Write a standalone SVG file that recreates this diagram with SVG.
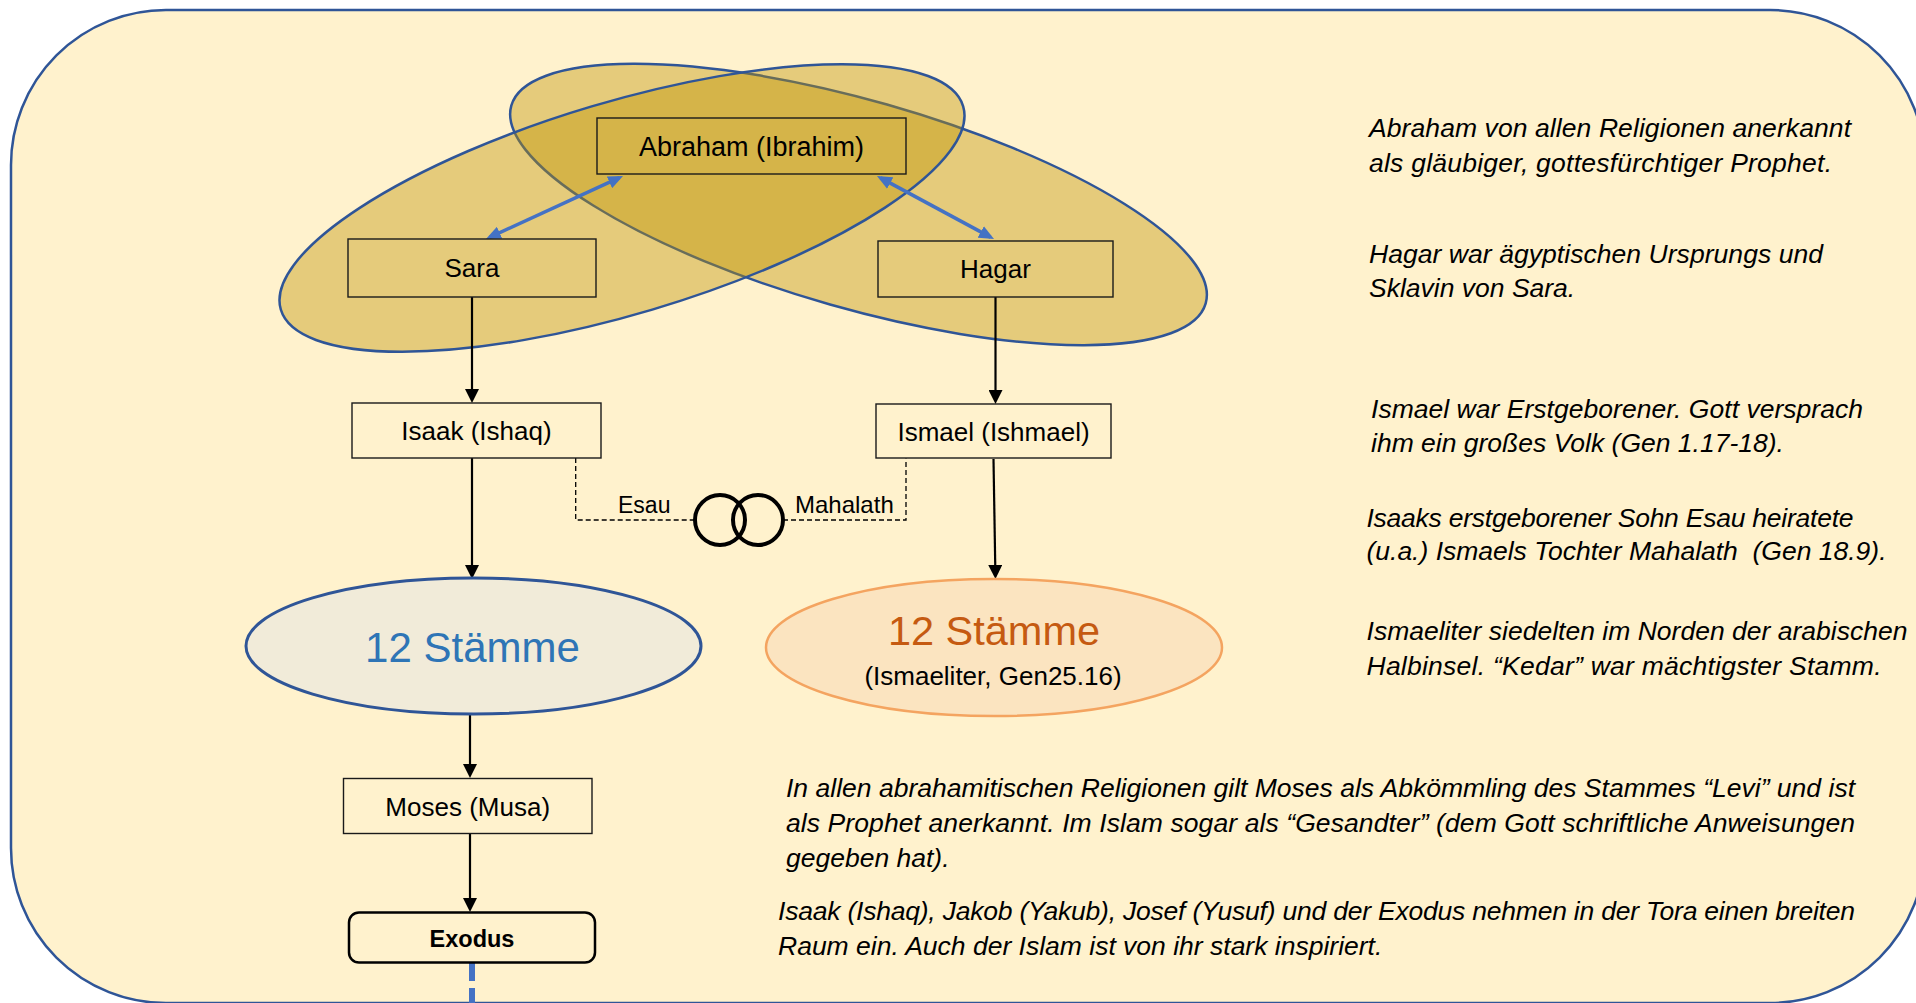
<svg xmlns="http://www.w3.org/2000/svg" width="1916" height="1003" viewBox="0 0 1916 1003">
  <style>
    .lbl { font-family: "Liberation Sans", Arial, sans-serif; font-size: 26px; fill: #000; text-anchor: middle; }
    .note { font-family: "Liberation Sans", Arial, sans-serif; font-size: 26.5px; font-style: italic; fill: #000; }
    .box { fill: none; stroke: #1a1a1a; stroke-width: 1.4; }
    .conn { fill: none; stroke: #000; stroke-width: 2.2; }
    .dash { fill: none; stroke: #000; stroke-width: 1.3; stroke-dasharray: 5 3; }
    .blue { fill: none; stroke: #4472C4; stroke-width: 3.5; }
  </style>
  <defs>
    <marker id="ah" viewBox="0 0 14 14" markerWidth="14" markerHeight="14" refX="10" refY="7" orient="auto" markerUnits="userSpaceOnUse">
      <path d="M0,0 L14,7 L0,14 z" fill="#000"/>
    </marker>
    <marker id="bh" viewBox="0 0 15 13" markerWidth="15" markerHeight="13" refX="11" refY="6.5" orient="auto-start-reverse" markerUnits="userSpaceOnUse">
      <path d="M0,0 L15,6.5 L0,13 z" fill="#4472C4"/>
    </marker>
  </defs>

  <g id="background">
    <rect x="11" y="10" width="1914" height="993" rx="155" ry="155" fill="#FFF2CD" stroke="#2F5597" stroke-width="2.5"/>
  </g>

  <g id="family-ellipses">
    <ellipse cx="858.5" cy="204.5" rx="361" ry="104" transform="rotate(15.9 858.5 204.5)" fill="#BF9000" fill-opacity="0.4" stroke="#2F5597" stroke-width="2.5"/>
    <ellipse cx="622" cy="208" rx="356" ry="106" transform="rotate(-16.6 622 208)" fill="#BF9000" fill-opacity="0.4" stroke="#2F5597" stroke-width="2.5"/>
  </g>

  <g id="connectors">
    <line class="blue" x1="489.6" y1="237.3" x2="619.4" y2="177.7" marker-start="url(#bh)" marker-end="url(#bh)"/>
    <line class="blue" x1="880.5" y1="177.9" x2="990.5" y2="237.1" marker-start="url(#bh)" marker-end="url(#bh)"/>
    <line class="conn" x1="472" y1="297" x2="472" y2="399" marker-end="url(#ah)"/>
    <line class="conn" x1="995.5" y1="297" x2="995.5" y2="400" marker-end="url(#ah)"/>
    <line class="conn" x1="472" y1="458" x2="472" y2="575" marker-end="url(#ah)"/>
    <line class="conn" x1="993.5" y1="459" x2="995.4" y2="575" marker-end="url(#ah)"/>
    <line class="conn" x1="470" y1="714" x2="470" y2="774" marker-end="url(#ah)"/>
    <line class="conn" x1="470" y1="834" x2="470" y2="908" marker-end="url(#ah)"/>
    <path class="dash" d="M575.7,458 V520 H694.6"/>
    <path class="dash" d="M783,520 H906 V458.5"/>
    <line x1="472" y1="963" x2="472" y2="1003" stroke="#4472C4" stroke-width="6" stroke-dasharray="18 7"/>
  </g>

  <g id="abraham">
    <rect class="box" x="597" y="118" width="309" height="56"/>
    <text class="lbl" x="751.5" y="156" style="font-size:27px">Abraham (Ibrahim)</text>
  </g>
  <g id="sara">
    <rect class="box" x="348" y="239" width="248" height="58"/>
    <text class="lbl" x="472" y="277">Sara</text>
  </g>
  <g id="hagar">
    <rect class="box" x="878" y="241" width="235" height="56"/>
    <text class="lbl" x="995.5" y="278">Hagar</text>
  </g>
  <g id="isaak">
    <rect class="box" x="352" y="403" width="249" height="55"/>
    <text class="lbl" x="476.5" y="440">Isaak (Ishaq)</text>
  </g>
  <g id="ismael">
    <rect class="box" x="876" y="404" width="235" height="54"/>
    <text class="lbl" x="993.5" y="441">Ismael (Ishmael)</text>
  </g>
  <g id="marriage">
    <circle cx="720" cy="520" r="25" fill="none" stroke="#000" stroke-width="4"/>
    <circle cx="758" cy="520" r="25" fill="none" stroke="#000" stroke-width="4"/>
    <text class="lbl" x="618" y="513" style="font-size:23px;text-anchor:start">Esau</text>
    <text class="lbl" x="795" y="513" style="font-size:24px;text-anchor:start">Mahalath</text>
  </g>
  <g id="staemme-israel">
    <ellipse cx="473.5" cy="646" rx="227.5" ry="68" fill="#F1EBD9" stroke="#2F5597" stroke-width="3"/>
    <text class="lbl" x="472.5" y="662" style="font-size:42px;fill:#2E75B6">12 Stämme</text>
  </g>
  <g id="staemme-ismaeliter">
    <ellipse cx="994" cy="647.5" rx="228" ry="68.5" fill="#FBE4C0" stroke="#F4A460" stroke-width="2.5"/>
    <text class="lbl" x="994" y="645" style="font-size:41.5px;fill:#C55A11">12 Stämme</text>
    <text class="lbl" x="993" y="685">(Ismaeliter, Gen25.16)</text>
  </g>
  <g id="moses">
    <rect class="box" x="343.5" y="778.5" width="248.5" height="55"/>
    <text class="lbl" x="467.7" y="816">Moses (Musa)</text>
  </g>
  <g id="exodus">
    <rect x="349" y="912.5" width="246" height="50" rx="10" ry="10" fill="none" stroke="#000" stroke-width="2.5"/>
    <text class="lbl" x="472" y="947" style="font-size:23.5px;font-weight:bold">Exodus</text>
  </g>

  <g id="notes">
    <text class="note" x="1369" y="137" textLength="482">Abraham von allen Religionen anerkannt</text>
    <text class="note" x="1369" y="172" textLength="463">als gläubiger, gottesfürchtiger Prophet.</text>
    <text class="note" x="1369" y="263" textLength="454">Hagar war ägyptischen Ursprungs und</text>
    <text class="note" x="1369" y="297">Sklavin von Sara.</text>
    <text class="note" x="1371" y="418" textLength="492">Ismael war Erstgeborener. Gott versprach</text>
    <text class="note" x="1371" y="452">ihm ein großes Volk (Gen 1.17-18).</text>
    <text class="note" x="1366.5" y="527" textLength="487">Isaaks erstgeborener Sohn Esau heiratete</text>
    <text class="note" x="1366.5" y="560" textLength="520" xml:space="preserve">(u.a.) Ismaels Tochter Mahalath  (Gen 18.9).</text>
    <text class="note" x="1366.5" y="640" textLength="541">Ismaeliter siedelten im Norden der arabischen</text>
    <text class="note" x="1366.5" y="675" textLength="515">Halbinsel. “Kedar” war mächtigster Stamm.</text>
    <text class="note" x="786" y="797" textLength="1069">In allen abrahamitischen Religionen gilt Moses als Abkömmling des Stammes “Levi” und ist</text>
    <text class="note" x="786" y="832" textLength="1069">als Prophet anerkannt. Im Islam sogar als “Gesandter” (dem Gott schriftliche Anweisungen</text>
    <text class="note" x="786" y="867">gegeben hat).</text>
    <text class="note" x="778" y="920" textLength="1077">Isaak (Ishaq), Jakob (Yakub), Josef (Yusuf) und der Exodus nehmen in der Tora einen breiten</text>
    <text class="note" x="778" y="955">Raum ein. Auch der Islam ist von ihr stark inspiriert.</text>
  </g>
</svg>
